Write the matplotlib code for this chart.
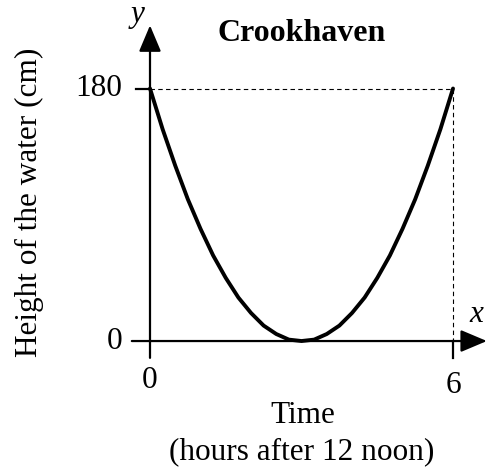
import matplotlib
matplotlib.use("Agg")
import matplotlib.pyplot as plt

# water height (hours after noon, cm)
hours = [0, 0.25, 0.5, 0.75, 1, 1.25, 1.5, 1.75, 2, 2.25, 2.5, 2.75, 3,
         3.25, 3.5, 3.75, 4, 4.25, 4.5, 4.75, 5, 5.25, 5.5, 5.75, 6]
height = [180, 151, 125, 101, 80, 61, 45, 31, 20, 11, 5, 1, 0,
          1, 5, 11, 20, 31, 45, 61, 80, 101, 125, 151, 180]

x_ticks = [0, 6]
y_ticks = [0, 180]
title = "Crookhaven"

plt.rcParams["font.family"] = ["Liberation Serif", "DejaVu Serif"]
plt.rcParams["mathtext.fontset"] = "custom"
plt.rcParams["mathtext.it"] = "Liberation Serif:italic"

fig = plt.figure(figsize=(5, 4.75), dpi=100)
ax = fig.add_axes([0, 0, 1, 1])
ax.set_xlim(-2.97, 6.93)
ax.set_ylim(-95.5, 243.1)
ax.axis("off")

# axes with arrow heads
arrow = dict(arrowstyle="-|>,head_length=0.9,head_width=0.38",
             color="black", lw=1.6, shrinkA=0, shrinkB=0, mutation_scale=18)
ax.annotate("", xy=(0, 225), xytext=(0, -12), arrowprops=arrow)
ax.annotate("", xy=(6.67, 0), xytext=(-0.36, 0), arrowprops=arrow)

# tick marks
ax.plot([x_ticks[1], x_ticks[1]], [0, -12], color="black", lw=1.6)
ax.plot([-0.28, 0], [y_ticks[1], y_ticks[1]], color="black", lw=1.6)

# dashed guides
ax.plot([0, x_ticks[1]], [y_ticks[1], y_ticks[1]], color="black", lw=0.8,
        ls=(0, (4, 3)))
ax.plot([x_ticks[1], x_ticks[1]], [y_ticks[1], 0], color="black", lw=0.8,
        ls=(0, (4, 3)))

ax.plot(hours, height, color="black", lw=2.8, solid_capstyle="round", zorder=3)

fs = 22.5
ax.text(3.0, 219, title, fontsize=23, fontweight="bold", ha="center", va="center")
ax.text(-0.26, 231, "$y$", fontsize=fs, ha="center", va="center")
ax.text(6.48, 19, "$x$", fontsize=fs, ha="center", va="center")
for v in y_ticks:
    ax.text(-0.55, v, str(v), fontsize=fs, ha="right", va="center")
ax.text(0, -28, str(x_ticks[0]), fontsize=fs, ha="center", va="center")
ax.text(6, -32, str(x_ticks[1]), fontsize=fs, ha="center", va="center")
ax.text(3.03, -53, "Time", fontsize=fs, ha="center", va="center")
ax.text(3.0, -79, "(hours after 12 noon)", fontsize=fs, ha="center", va="center")
ax.text(-2.38, 99, "Height of the water (cm)", fontsize=fs, rotation=90,
        ha="center", va="center")

fig.savefig("out.png", dpi=100)
